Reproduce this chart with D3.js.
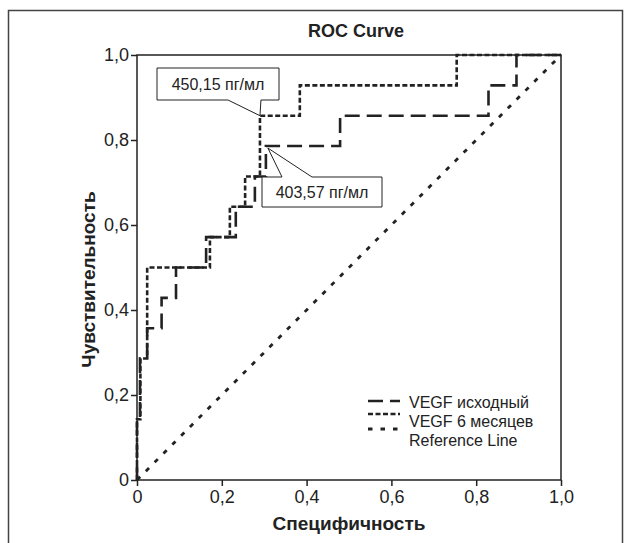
<!DOCTYPE html>
<html><head><meta charset="utf-8">
<script src="https://cdn.jsdelivr.net/npm/d3@7"></script>
<style>body{margin:0;background:#fff}svg{display:block}</style>
</head><body>
<svg id="c" width="631" height="543"></svg>
<script>
// ---- data ----
const title = "ROC Curve";
const xLabel = "Специфичность";
const yLabel = "Чувствительность";
const tickValues = [0, 0.2, 0.4, 0.6, 0.8, 1.0];
const seriesNames = ["VEGF исходный", "VEGF 6 месяцев", "Reference Line"];
// VEGF исходный: ROC points (x, sensitivity)
const baseX = [0, 0, 0.007, 0.007, 0.024, 0.024, 0.058, 0.058, 0.092, 0.092, 0.163, 0.163, 0.233, 0.233, 0.278, 0.278, 0.304, 0.304, 0.479, 0.479, 0.829, 0.829, 0.895, 0.895, 1];
const baseY = [0, 2/14, 2/14, 4/14, 4/14, 5/14, 5/14, 6/14, 6/14, 7/14, 7/14, 8/14, 8/14, 9/14, 9/14, 10/14, 10/14, 11/14, 11/14, 12/14, 12/14, 13/14, 13/14, 1, 1];
// VEGF 6 месяцев
const m6X = [0, 0, 0.008, 0.008, 0.024, 0.024, 0.172, 0.172, 0.219, 0.219, 0.255, 0.255, 0.29, 0.29, 0.384, 0.384, 0.754, 0.754, 1];
const m6Y = [0, 2/14, 2/14, 4/14, 4/14, 7/14, 7/14, 8/14, 8/14, 9/14, 9/14, 10/14, 10/14, 12/14, 12/14, 13/14, 13/14, 1, 1];
const refX = [0, 1];
const refY = [0, 1];
// cut-off annotations
const annotLabels = ["450,15 пг/мл", "403,57 пг/мл"];
const annotX = [0.29, 0.304];
const annotY = [12/14, 11/14];

// ---- drawing ----
const FONT = "Liberation Sans, Arial, Helvetica, sans-serif";
const svg = d3.select("#c");
const L = 137, R = 561, T = 55, B = 480;
const x = d3.scaleLinear().domain([0, 1]).range([L, R]);
const y = d3.scaleLinear().domain([0, 1]).range([B, T]);
const ink = "#222";

// outer frame
svg.append("rect").attr("x", 8.5).attr("y", 10.5).attr("width", 614).attr("height", 560)
  .attr("fill", "none").attr("stroke", "#444").attr("stroke-width", 1.5);

svg.append("text").attr("x", 356).attr("y", 37).attr("text-anchor", "middle")
  .attr("font-family", FONT).attr("font-weight", "bold").attr("font-size", 18).attr("fill", ink).text(title);

const fmt = d => d === 0 ? "0" : d3.format(".1f")(d).replace(".", ",");
const gx = svg.append("g").attr("transform", `translate(0,${B})`)
  .call(d3.axisBottom(x).tickValues(tickValues).tickFormat(fmt).tickSize(6).tickSizeOuter(0).tickPadding(4));
const gy = svg.append("g").attr("transform", `translate(${L},0)`)
  .call(d3.axisLeft(y).tickValues(tickValues).tickFormat(fmt).tickSize(6).tickSizeOuter(0).tickPadding(2));
[gx, gy].forEach(g => {
  g.selectAll("path.domain").remove();
  g.selectAll("line").attr("stroke", ink).attr("stroke-width", 1.5);
  g.selectAll("text").attr("font-family", FONT).attr("font-size", 18).attr("fill", ink);
});

svg.append("text").attr("x", (L + R) / 2).attr("y", 530).attr("text-anchor", "middle")
  .attr("font-family", FONT).attr("font-weight", "bold").attr("font-size", 19).attr("fill", ink).text(xLabel);
svg.append("text").attr("transform", `translate(95,${(T + B) / 2 + 12}) rotate(-90)`).attr("text-anchor", "middle")
  .attr("font-family", FONT).attr("font-weight", "bold").attr("font-size", 19).attr("fill", ink).text(yLabel);

const line = d3.line().x(d => x(d[0])).y(d => y(d[1]));
const styles = [
  {dash: "15,7", w: 2.6},
  {dash: "5,2.5", w: 2.6},
  {dash: "4.5,8", w: 2.8}
];
const series = [d3.zip(baseX, baseY), d3.zip(m6X, m6Y), d3.zip(refX, refY)];
series.forEach((s, i) => {
  svg.append("path").datum(s).attr("d", line).attr("fill", "none")
    .attr("stroke", ink).attr("stroke-width", styles[i].w).attr("stroke-dasharray", styles[i].dash);
});

// plot frame
svg.append("rect").attr("x", L).attr("y", T).attr("width", R - L).attr("height", B - T)
  .attr("fill", "none").attr("stroke", ink).attr("stroke-width", 1.5);

// annotations
(function () {
  const px = x(annotX[0]), py = y(annotY[0]);
  const bx0 = 157, bx1 = 279, by0 = 68, by1 = 100;
  svg.append("path").attr("d", `M${bx0},${by0}H${bx1}V${by1}H${px + 1}L${px},${py}L${228},${by1}H${bx0}Z`)
    .attr("fill", "#fff").attr("stroke", ink).attr("stroke-width", 1);
  svg.append("text").attr("x", (bx0 + bx1) / 2).attr("y", by1 - 10).attr("text-anchor", "middle")
    .attr("font-family", FONT).attr("font-size", 16).attr("fill", ink).text(annotLabels[0]);
})();
(function () {
  const px = x(annotX[1]) + 2, py = y(annotY[1]) + 2;
  const bx0 = 262, bx1 = 382, by0 = 177, by1 = 207;
  svg.append("path").attr("d", `M${bx0},${by0}H${282}L${px},${py}L${312},${by0}H${bx1}V${by1}H${bx0}Z`)
    .attr("fill", "#fff").attr("stroke", ink).attr("stroke-width", 1);
  svg.append("text").attr("x", (bx0 + bx1) / 2).attr("y", by1 - 9).attr("text-anchor", "middle")
    .attr("font-family", FONT).attr("font-size", 16).attr("fill", ink).text(annotLabels[1]);
})();

// legend
const legY = [401, 414, 429];
const legTY = [408, 427, 446];
seriesNames.forEach((n, i) => {
  svg.append("line").attr("x1", 368).attr("x2", 400).attr("y1", legY[i]).attr("y2", legY[i])
    .attr("stroke", ink).attr("stroke-width", styles[i].w).attr("stroke-dasharray", styles[i].dash);
  svg.append("text").attr("x", 409).attr("y", legTY[i]).attr("font-family", FONT).attr("font-size", 16)
    .attr("fill", ink).text(n);
});
</script>
</body></html>
